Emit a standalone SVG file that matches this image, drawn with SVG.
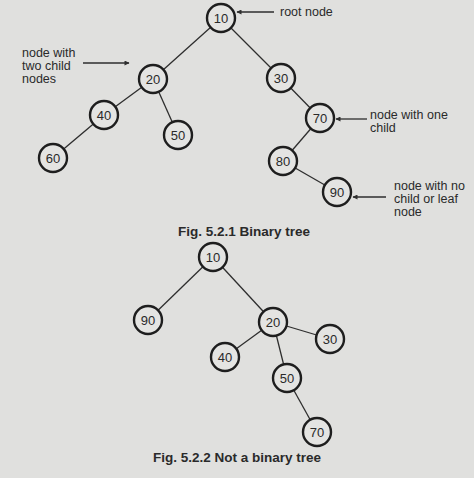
<svg xmlns="http://www.w3.org/2000/svg" width="474" height="478" viewBox="0 0 474 478">
<defs>
<style>
.bg{fill:#e0e0de}
.nd circle{fill:#e4e4e2;stroke:#1e1e1e;stroke-width:2.4}
.nd text{font-family:"Liberation Sans",Arial,sans-serif;font-size:13px;fill:#2a2a2a;text-anchor:middle}
.edge line{stroke:#2e2e2e;stroke-width:1.3}
.ann line{stroke:#2e2e2e;stroke-width:1.3;marker-end:url(#ah)}
.lbl{font-family:"Liberation Sans",Arial,sans-serif;font-size:12.5px;fill:#2a2a2a}
.cap{font-family:"Liberation Sans",Arial,sans-serif;font-size:13.5px;font-weight:bold;fill:#2a2a2a;text-anchor:middle}
</style>
<marker id="ah" viewBox="0 0 10 10" refX="9" refY="5" markerWidth="7" markerHeight="5" orient="auto" markerUnits="userSpaceOnUse">
<path d="M0,0 L10,5 L0,10 Z" fill="#2e2e2e"/>
</marker>
</defs>
<rect class="bg" x="0" y="0" width="474" height="478"/>

<g id="connectors" class="edge">
<line x1="221" y1="18" x2="153" y2="79"/>
<line x1="221" y1="18" x2="281" y2="78"/>
<line x1="153" y1="79" x2="104" y2="115"/>
<line x1="153" y1="79" x2="178" y2="135"/>
<line x1="104" y1="115" x2="53" y2="158"/>
<line x1="281" y1="78" x2="320" y2="118"/>
<line x1="320" y1="118" x2="283" y2="161"/>
<line x1="283" y1="161" x2="337" y2="192"/>
<line x1="213" y1="257" x2="148" y2="320"/>
<line x1="213" y1="257" x2="273" y2="322"/>
<line x1="273" y1="322" x2="330" y2="339"/>
<line x1="273" y1="322" x2="225" y2="357"/>
<line x1="273" y1="322" x2="287" y2="378"/>
<line x1="287" y1="378" x2="317" y2="432"/>
</g>

<g id="annotations" class="ann">
<line x1="274" y1="12" x2="237" y2="12"/>
<line x1="83" y1="63" x2="129" y2="63"/>
<line x1="367" y1="119" x2="336" y2="119"/>
<line x1="386" y1="197" x2="353" y2="197"/>
</g>

<g id="t1-n10" class="nd"><circle cx="221" cy="18" r="14"/><text x="221" y="22.5">10</text></g>
<g id="t1-n20" class="nd"><circle cx="153" cy="79" r="14"/><text x="153" y="83.5">20</text></g>
<g id="t1-n30" class="nd"><circle cx="281" cy="78" r="14"/><text x="281" y="82.5">30</text></g>
<g id="t1-n40" class="nd"><circle cx="104" cy="115" r="14"/><text x="104" y="119.5">40</text></g>
<g id="t1-n50" class="nd"><circle cx="178" cy="135" r="14"/><text x="178" y="139.5">50</text></g>
<g id="t1-n60" class="nd"><circle cx="53" cy="158" r="14"/><text x="53" y="162.5">60</text></g>
<g id="t1-n70" class="nd"><circle cx="320" cy="118" r="14"/><text x="320" y="122.5">70</text></g>
<g id="t1-n80" class="nd"><circle cx="283" cy="161" r="14"/><text x="283" y="165.5">80</text></g>
<g id="t1-n90" class="nd"><circle cx="337" cy="192" r="14"/><text x="337" y="196.5">90</text></g>

<g id="labels">
<text class="lbl" x="280" y="16">root node</text>
<text class="lbl" x="22" y="57">node with</text>
<text class="lbl" x="22" y="70">two child</text>
<text class="lbl" x="22" y="83">nodes</text>
<text class="lbl" x="370" y="119">node with one</text>
<text class="lbl" x="370" y="132">child</text>
<text class="lbl" x="394" y="190">node with no</text>
<text class="lbl" x="394" y="203">child or leaf</text>
<text class="lbl" x="394" y="216">node</text>
<text class="cap" x="244" y="236">Fig. 5.2.1 Binary tree</text>
<text class="cap" x="237" y="462">Fig. 5.2.2 Not a binary tree</text>
</g>

<g id="t2-n10" class="nd"><circle cx="213" cy="257" r="14"/><text x="213" y="261.5">10</text></g>
<g id="t2-n90" class="nd"><circle cx="148" cy="320" r="14"/><text x="148" y="324.5">90</text></g>
<g id="t2-n20" class="nd"><circle cx="273" cy="322" r="14"/><text x="273" y="326.5">20</text></g>
<g id="t2-n30" class="nd"><circle cx="330" cy="339" r="14"/><text x="330" y="343.5">30</text></g>
<g id="t2-n40" class="nd"><circle cx="225" cy="357" r="14"/><text x="225" y="361.5">40</text></g>
<g id="t2-n50" class="nd"><circle cx="287" cy="378" r="14"/><text x="287" y="382.5">50</text></g>
<g id="t2-n70" class="nd"><circle cx="317" cy="432" r="14"/><text x="317" y="436.5">70</text></g>
</svg>
